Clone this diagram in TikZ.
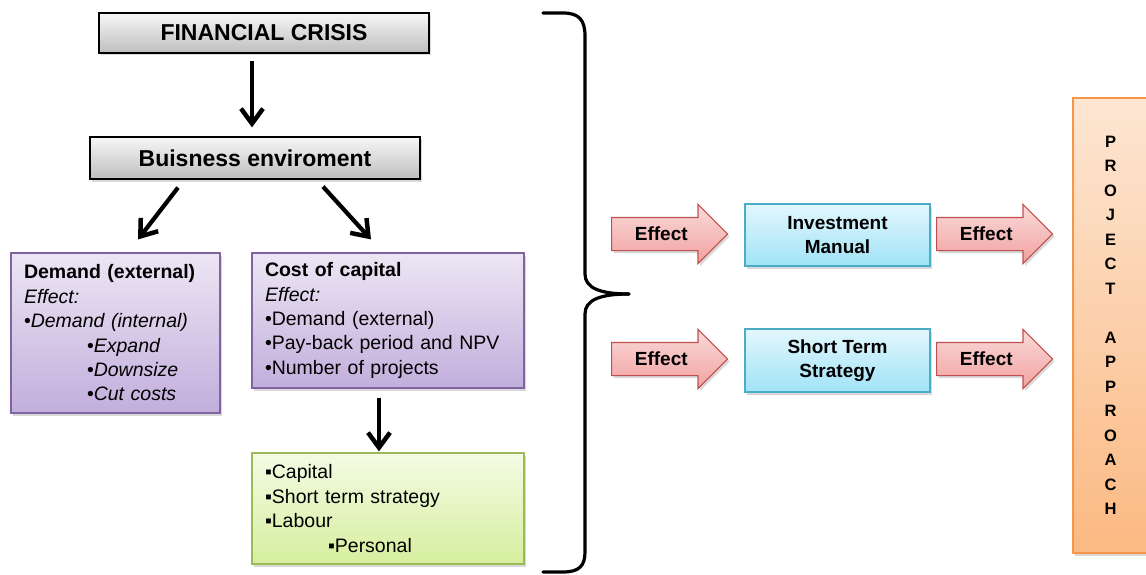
\documentclass[tikz,border=0pt]{standalone}
\usepackage{fontspec}
\setmainfont{Liberation Sans}
\usetikzlibrary{arrows.meta,shapes.arrows,shadows,calc}
\definecolor{pBorder}{HTML}{8064A2}
\definecolor{pTop}{HTML}{ECE6F4}
\definecolor{pBot}{HTML}{C2AEDC}
\definecolor{gBorder}{HTML}{9BBB59}
\definecolor{gTop}{HTML}{F4FBE4}
\definecolor{gBot}{HTML}{D5EF9E}
\definecolor{bBorder}{HTML}{4BACC6}
\definecolor{bTop}{HTML}{E3F7FD}
\definecolor{bBot}{HTML}{A0E3F6}
\definecolor{oBorder}{HTML}{F79646}
\definecolor{oTop}{HTML}{FDE6D3}
\definecolor{oBot}{HTML}{FBB982}
\definecolor{rBorder}{HTML}{C0504D}
\definecolor{rTop}{HTML}{FADADA}
\definecolor{rBot}{HTML}{F1A1A0}
\definecolor{grTop}{HTML}{F7F7F7}
\definecolor{grBot}{HTML}{BEBEBE}
\begin{document}
\begin{tikzpicture}[x=1pt,y=-1pt,
  box/.style={draw, line width=1.2pt, inner sep=0pt,
    drop shadow={opacity=0.3,shadow xshift=2pt,shadow yshift=-2.5pt}},
  graybox/.style={box, draw=black, top color=grTop, bottom color=grBot,
    font=\bfseries\fontsize{23}{27}\selectfont},
  purplebox/.style={box, draw=pBorder, top color=pTop, bottom color=pBot,
    align=left, inner xsep=13pt, font=\fontsize{19.5}{24.4}\selectfont},
  greenbox/.style={box, draw=gBorder, top color=gTop, bottom color=gBot,
    align=left, inner xsep=13pt, font=\fontsize{19.5}{24.4}\selectfont},
  bluebox/.style={box, draw=bBorder, top color=bTop, bottom color=bBot,
    align=center, font=\bfseries\fontsize{19}{24}\selectfont},
  orangebox/.style={box, draw=oBorder, top color=oTop, bottom color=oBot,
    align=center, font=\bfseries\fontsize{16.5}{24.5}\selectfont},
  effect/.style={single arrow, draw=rBorder, line width=1.2pt,
    top color=rTop, bottom color=rBot, shading angle=0,
    drop shadow={opacity=0.3,shadow xshift=2pt,shadow yshift=-2.5pt},
    single arrow head extend=13pt, single arrow tip angle=90,
    minimum height=116pt, inner xsep=4pt, inner ysep=0pt,
    text height=22.8pt, text depth=9.2pt, anchor=tail,
    font=\bfseries\fontsize{19}{23}\selectfont},
  conn/.style={line width=4.2pt, -{Straight Barb[length=15pt,width=22pt,line width=4.5pt]}},
  bracepath/.style={line width=3.2pt, line cap=round, line join=round}
]
\useasboundingbox (0,0) rectangle (1146,575);

% top gray boxes
\node[graybox, minimum width=330pt, minimum height=40pt] (fc) at (264,33) {FINANCIAL CRISIS};
\node[graybox, minimum width=330pt, minimum height=42pt] (be) at (255,158) {Buisness enviroment};

% purple boxes
\node[purplebox, text width=183pt, minimum height=160pt] (dem) at (115.5,333)
  {\mbox{\textbf{Demand (external)}}\\
   \textit{Effect:}\\
   \mbox{•\textit{Demand (internal)}}\\
   \hspace*{63pt}•\textit{Expand}\\
   \hspace*{63pt}•\textit{Downsize}\\
   \hspace*{63pt}•\textit{Cut costs}};
\node[purplebox, text width=246pt, minimum height=135pt] (cost) at (388,320.5)
  {\textbf{Cost of capital}\\
   \textit{Effect:}\\
   \mbox{•Demand (external)}\\
   \mbox{•Pay-back period and NPV}\\
   \mbox{•Number of projects}};

% green box
\node[greenbox, text width=246pt, minimum height=111pt] (green) at (388,508.5)
  {\mbox{▪Capital}\\
   \mbox{▪Short term strategy}\\
   \mbox{▪Labour}\\
   \hspace*{63pt}▪Personal};

% connectors
\draw[conn] ([xshift=-3pt,yshift=-7pt]fc.south -| be.north) -- ([xshift=-3pt,yshift=9pt]be.north);
\draw[conn] ([xshift=-77pt,yshift=-8pt]be.south) -- ([xshift=22.5pt,yshift=13pt]dem.north);
\draw[conn] ([xshift=68pt,yshift=-7pt]be.south) -- ([xshift=-17pt,yshift=13pt]cost.north);
\draw[conn] ([xshift=-9pt,yshift=-9pt]cost.south) -- ([xshift=-9pt,yshift=1pt]green.north);

% brace
\draw[bracepath] (543,13) -- (563,13) .. controls (579,13) and (585,20) .. (585,36)
  -- (585,274) .. controls (585,288) and (600,294) .. (629,294);
\draw[bracepath] (629,294) .. controls (600,294) and (585,300) .. (585,314)
  -- (585,552) .. controls (585,566) and (579,572) .. (563,572) -- (543,572);

% effect arrows and blue boxes
\node[effect] (e1) at (611,234) {Effect};
\node[effect] (e2) at (611,359) {Effect};
\node[bluebox, minimum width=185pt, minimum height=62pt] (im) at (837.5,235) {Investment\\Manual};
\node[bluebox, minimum width=185pt, minimum height=63pt] (sts) at (837.5,360.5) {Short Term\\Strategy};
\node[effect] (e3) at (936,234) {Effect};
\node[effect] (e4) at (936,359) {Effect};

% project approach
\node[orangebox, minimum width=75pt, minimum height=455pt] (proj) at (1110.5,325.5)
  {P\\R\\O\\J\\E\\C\\T\\[24.5pt]A\\P\\P\\R\\O\\A\\C\\H};
\end{tikzpicture}
\end{document}
